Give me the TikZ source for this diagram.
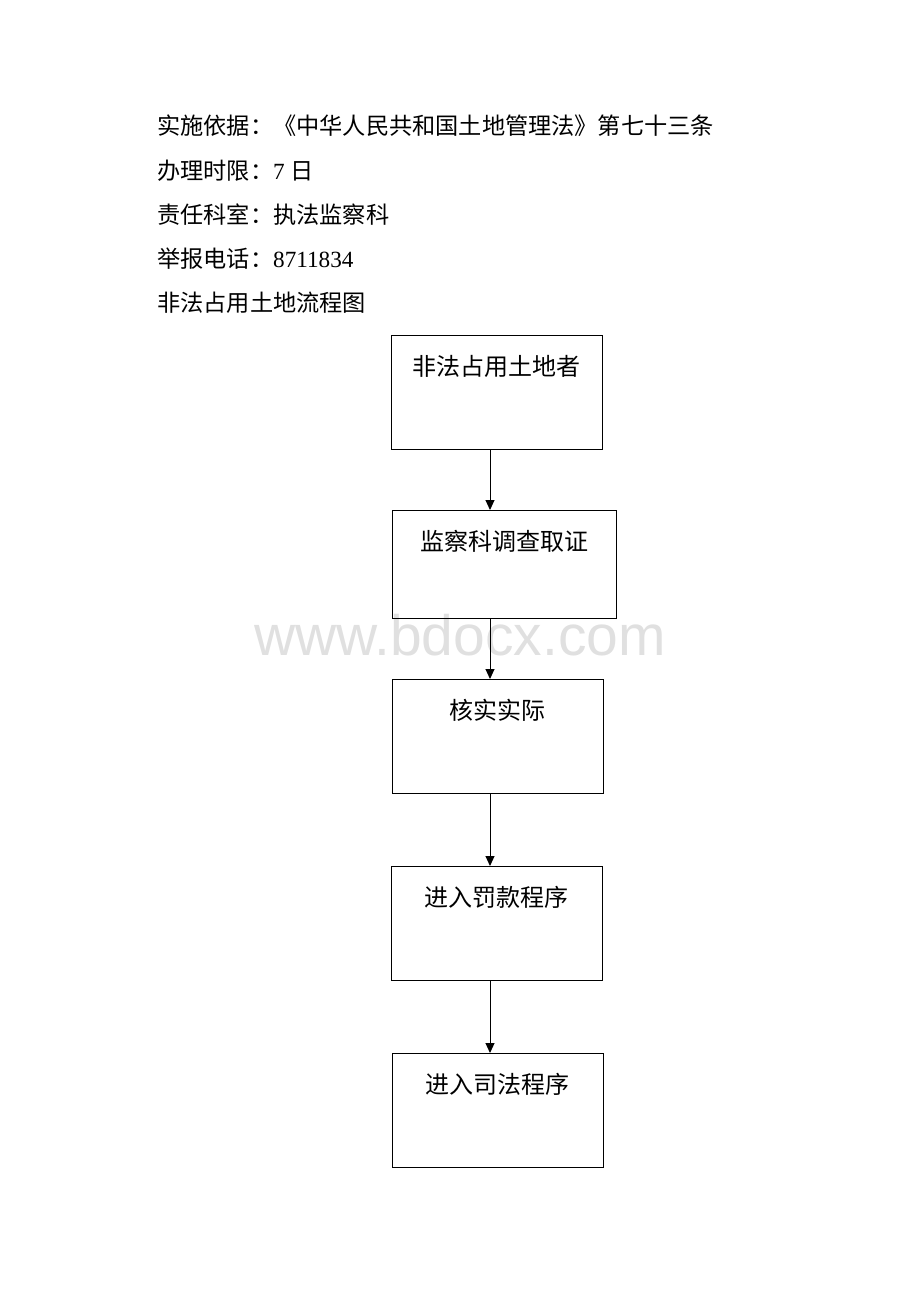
\documentclass[tikz,border=0pt]{standalone}
\usepackage{fontspec}
\setmainfont{Liberation Serif}
\newfontfamily\cjk{Noto Sans CJK SC}
\newfontfamily\wmfont{Liberation Sans}
\usetikzlibrary{arrows.meta}
\tikzset{
    flowbox/.style={rectangle,draw=black,line width=1pt,inner sep=0,text height=40pt,text depth=74pt,font=\cjk\fontsize{24pt}{24pt}\selectfont},
    info/.style={anchor=base west,inner sep=0,font=\fontsize{23.2pt}{23.2pt}\selectfont},
    flow/.style={-{Triangle[width=9pt,length=10pt]},line width=1pt}
}

\begin{document}
\begin{tikzpicture}[x=1pt,y=-1pt]
    \useasboundingbox (0,0) rectangle (920,1302);
    \node[anchor=base,inner sep=0,text=black!12,font=\wmfont\fontsize{57pt}{57pt}\selectfont] (mark) at (460,655) {www.bdocx.com};

    \node[info] (basis) at (157,134) {\cjk 实施依据：《中华人民共和国土地管理法》第七十三条};
    \node[info] (limit) at (157,179) {{\cjk 办理时限：}7 {\cjk 日}};
    \node[info] (office) at (157,223) {\cjk 责任科室：执法监察科};
    \node[info] (phone) at (157,267) {{\cjk 举报电话：}8711834};
    \node[info] (title) at (157,311) {\cjk 非法占用土地流程图};

    \node[flowbox,anchor=north,minimum width=211pt] (occupy) at (496.5,335) {非法占用土地者};
    \node[flowbox,anchor=north,minimum width=224pt,text depth=68pt] (survey) at (504,510) {监察科调查取证};
    \node[flowbox,anchor=north,minimum width=211pt] (verify) at (497.5,679) {核实实际};
    \node[flowbox,anchor=north,minimum width=211pt] (fine) at (496.5,866) {进入罚款程序};
    \node[flowbox,anchor=north,minimum width=211pt] (court) at (497.5,1053) {进入司法程序};

    \coordinate (ax) at (490,0);
    \draw[flow] (occupy.south -| ax) -- (survey.north -| ax);
    \draw[flow] (survey.south -| ax) -- (verify.north -| ax);
    \draw[flow] (verify.south -| ax) -- (fine.north -| ax);
    \draw[flow] (fine.south -| ax) -- (court.north -| ax);
\end{tikzpicture}
\end{document}
